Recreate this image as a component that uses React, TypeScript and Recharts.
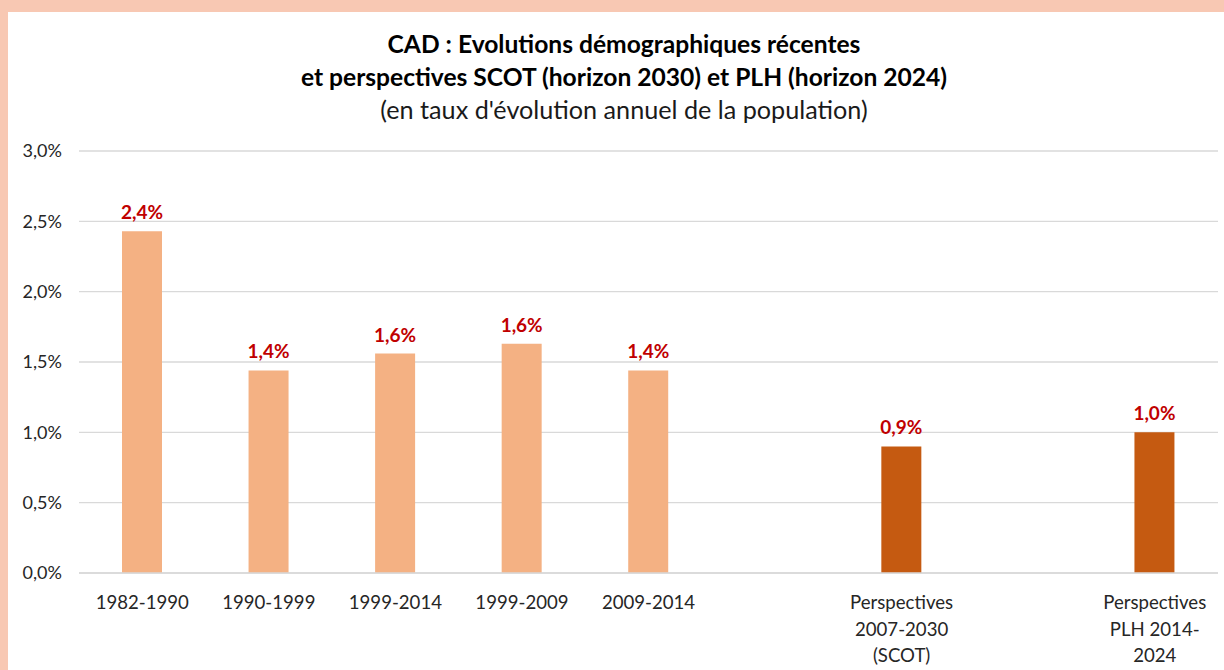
import { BarChart, Bar, XAxis, YAxis, CartesianGrid, Cell, LabelList } from "recharts";

const categories = [
  "1982-1990",
  "1990-1999",
  "1999-2014",
  "1999-2009",
  "2009-2014",
  "",
  "Perspectives\n2007-2030\n(SCOT)",
  " ",
  "Perspectives\nPLH 2014-\n2024",
];
const rates: (number | null)[] = [2.43, 1.44, 1.56, 1.63, 1.44, null, 0.9, null, 1.0];
const labels = ["2,4%", "1,4%", "1,6%", "1,6%", "1,4%", "", "0,9%", "", "1,0%"];
const isProjection = [false, false, false, false, false, false, true, false, true];
const yTicks = [0, 0.5, 1, 1.5, 2, 2.5, 3];

const titleLines = [
  "CAD : Evolutions démographiques récentes",
  "et perspectives SCOT (horizon 2030) et PLH (horizon 2024)",
];
const subtitle = "(en taux d'évolution annuel de la population)";

const font = "Lato, 'Open Sans', sans-serif";

const data = categories.map((c, i) => ({
  cat: c,
  rate: rates[i],
  label: labels[i],
  proj: isProjection[i],
}));

function CatTick({ x, y, payload }: any) {
  const lines = String(payload.value).split("\n");
  return (
    <text x={x} y={y} textAnchor="middle" fill="#262626" fontSize={18.6} fontFamily={font}>
      {lines.map((l, i) => (
        <tspan key={i} x={x} dy={i === 0 ? 28 : 26.5}>
          {l}
        </tspan>
      ))}
    </text>
  );
}

export default function App() {
  return (
    <div style={{ position: "fixed", left: 0, top: 0, width: 1224, height: 670, background: "#f8c8b3" }}>
      <div style={{ position: "absolute", left: 8, top: 12, width: 1216, height: 658, background: "#ffffff" }}>
        <div
          style={{
            position: "absolute",
            left: 116,
            top: 16,
            width: 1000,
            textAlign: "center",
            fontFamily: font,
            color: "#000",
            lineHeight: "32.5px",
          }}
        >
          {titleLines.map((t) => (
            <div key={t} style={{ fontSize: 24.6, fontWeight: 700 }}>
              {t}
            </div>
          ))}
          <div style={{ fontSize: 25.2, color: "#1a1a1a" }}>{subtitle}</div>
        </div>
        <BarChart
          width={1216}
          height={658}
          data={data}
          margin={{ top: 139, right: 6, bottom: 7, left: 0 }}
          barSize={40}
        >
          <CartesianGrid vertical={false} stroke="#d9d9d9" strokeWidth={1.3} />
          <XAxis
            dataKey="cat"
            tick={<CatTick />}
            tickLine={false}
            axisLine={{ stroke: "#d9d9d9", strokeWidth: 1.5 }}
            height={90}
            interval={0}
          />
          <YAxis
            domain={[0, 3]}
            ticks={yTicks}
            width={71}
            tickSize={0}
            tickMargin={17}
            axisLine={false}
            tickLine={false}
            tickFormatter={(v: number) => v.toFixed(1).replace(".", ",") + "%"}
            tick={{ fill: "#262626", fontSize: 18, fontFamily: font }}
          />
          <Bar dataKey="rate" isAnimationActive={false}>
            {data.map((d, i) => (
              <Cell key={i} fill={d.proj ? "#c55a11" : "#f4b183"} />
            ))}
            <LabelList
              dataKey="label"
              position="top"
              offset={12}
              fill="#c00000"
              fontSize={19}
              fontWeight={700}
              fontFamily={font}
            />
          </Bar>
        </BarChart>
      </div>
    </div>
  );
}
